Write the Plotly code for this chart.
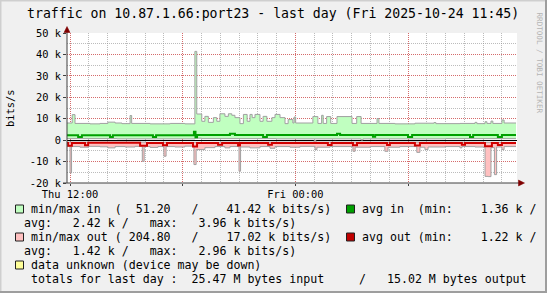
import plotly.graph_objects as go

# ---------------- data (k bits/s) ----------------
IN_MAX_TIME = ["Thu 11:50","Thu 12:07","Thu 12:16","Thu 13:04","Thu 13:36","Thu 14:01","Thu 14:24","Thu 14:46",
               "Thu 15:12","Thu 15:17","Thu 16:16","Thu 17:20","Thu 18:07","Thu 18:39","Thu 18:45","Thu 19:01",
               "Thu 19:11","Thu 19:22","Thu 19:38","Thu 19:49","Thu 19:59","Thu 20:15","Thu 20:26","Thu 20:37",
               "Thu 20:47","Thu 21:03","Thu 21:14","Thu 21:26","Thu 21:35","Thu 21:42","Thu 21:51","Thu 22:07",
               "Thu 22:17","Thu 22:29","Thu 22:45","Thu 22:55","Thu 23:11","Thu 23:27","Thu 23:37","Thu 23:52",
               "Thu 23:56","Fri 00:01","Fri 00:56","Fri 01:12","Fri 01:24","Fri 01:29","Fri 01:40","Fri 01:53",
               "Fri 02:13","Fri 03:01","Fri 03:16","Fri 03:30","Fri 04:21","Fri 04:27","Fri 05:18","Fri 06:22",
               "Fri 07:23","Fri 07:29","Fri 08:46","Fri 09:34","Fri 09:40","Fri 10:06","Fri 10:12","Fri 10:25",
               "Fri 10:31","Fri 11:00","Fri 11:07","Fri 11:45"]
IN_MAX_K = [8.0,11.9,7.8,7.6,7.8,8.4,8.0,7.7,11.5,7.8,7.6,7.8,7.6,41.42,12.2,8.8,11.1,8.3,10.5,8.8,12.3,11.1,
            12.3,11.6,10.5,7.7,12.0,8.8,12.0,10.5,12.0,8.8,11.1,8.8,10.5,12.0,10.5,7.7,9.6,8.0,10.8,8.0,11.0,
            7.8,11.6,7.8,11.0,7.8,11.0,7.8,11.0,7.8,10.1,7.8,7.6,7.9,8.2,7.7,7.8,8.3,7.7,8.6,7.8,8.9,7.8,9.4,
            8.0,8.0]

IN_MIN_TIME = ["Thu 11:50","Thu 14:30","Thu 18:39","Thu 19:00","Thu 23:00","Fri 03:30","Fri 03:36","Fri 08:00","Fri 11:45"]
IN_MIN_K = [0.7,0.6,0.9,0.7,0.6,0.0512,0.6,0.7,0.7]

AVG_IN_TIME = ["Thu 11:50","Thu 12:26","Thu 12:38","Thu 14:08","Thu 14:17","Thu 16:25","Thu 16:35","Thu 18:36",
               "Thu 18:41","Thu 18:46","Thu 20:31","Thu 20:47","Thu 22:17","Thu 22:29","Fri 02:13","Fri 02:23",
               "Fri 04:08","Fri 04:15","Fri 06:00","Fri 06:13","Fri 09:18","Fri 09:28","Fri 10:47","Fri 11:00",
               "Fri 11:45"]
AVG_IN_K = [2.3,1.5,2.3,1.5,2.3,1.5,2.3,3.96,1.36,2.4,3.0,2.4,1.5,2.4,3.0,2.4,1.6,2.4,1.5,2.4,1.5,2.4,1.5,2.4,2.4]

OUT_MAX_TIME = ["Thu 11:50","Thu 12:00","Thu 12:05","Thu 12:32","Thu 12:58","Thu 13:36","Thu 14:01","Thu 14:24",
                "Thu 14:56","Thu 15:28","Thu 15:51","Thu 15:57","Thu 16:16","Thu 16:41","Thu 17:00","Thu 17:07",
                "Thu 17:35","Thu 18:07","Thu 18:36","Thu 18:43","Thu 19:11","Thu 19:43","Thu 20:15","Thu 20:31",
                "Thu 21:00","Thu 21:05","Thu 21:35","Thu 22:07","Thu 22:39","Thu 22:55","Thu 23:43","Fri 00:15",
                "Fri 01:03","Fri 01:09","Fri 01:51","Fri 03:04","Fri 03:11","Fri 03:59","Fri 04:46","Fri 04:56",
                "Fri 05:34","Fri 06:28","Fri 06:38","Fri 06:54","Fri 07:04","Fri 07:58","Fri 08:46","Fri 08:52",
                "Fri 09:34","Fri 10:06","Fri 10:16","Fri 10:25","Fri 10:36","Fri 10:43","Fri 11:00","Fri 11:07",
                "Fri 11:45"]
OUT_MAX_K = [2.8,15.3,3.0,3.3,2.9,3.1,3.6,3.0,3.2,2.9,9.9,3.0,3.4,3.0,7.5,3.0,3.2,2.8,11.4,4.4,3.5,3.0,3.6,3.0,
             14.5,3.2,3.6,3.0,3.8,3.0,3.3,2.9,4.4,3.3,3.0,5.2,3.3,3.0,5.2,3.3,3.0,5.7,3.3,4.4,3.2,3.0,3.6,3.0,
             3.2,16.9,17.02,3.5,16.1,3.2,4.4,3.0,3.0]

OUT_MIN_TIME = ["Thu 11:50","Thu 16:00","Thu 20:00","Fri 01:00","Fri 01:06","Fri 10:00","Fri 11:45"]
OUT_MIN_K = [0.9,1.0,0.9,0.2048,0.9,1.0,1.0]

AVG_OUT_TIME = ["Thu 11:50","Thu 11:54","Thu 12:06","Thu 12:48","Thu 12:58","Thu 15:44","Thu 16:06","Thu 16:57",
                "Thu 17:10","Thu 18:33","Thu 18:46","Thu 19:53","Thu 20:06","Thu 20:57","Thu 21:03","Thu 22:33",
                "Thu 22:45","Fri 01:44","Fri 01:56","Fri 03:04","Fri 03:17","Fri 04:53","Fri 05:02","Fri 06:22",
                "Fri 06:38","Fri 08:52","Fri 09:02","Fri 10:06","Fri 10:28","Fri 10:47","Fri 11:00","Fri 11:45"]
AVG_OUT_K = [1.3,2.6,1.3,2.4,1.22,2.6,1.3,2.4,1.3,2.96,1.3,2.2,1.3,2.5,1.3,2.2,1.3,2.3,1.3,2.4,1.3,2.3,1.3,2.5,
             1.3,2.2,1.3,2.8,1.3,2.3,1.3,1.3]

Y_TICKS = [-20000, -10000, 0, 10000, 20000, 30000, 40000, 50000]
Y_TICK_LABELS = ["-20 k", "-10 k", "0", "10 k", "20 k", "30 k", "40 k", "50 k"]
X_TICKS = ["Thu 12:00", "Thu 18:00", "Fri 00:00", "Fri 06:00"]
X_TICK_LABELS = ["Thu 12:00", "", "Fri 00:00", ""]

TITLE = "traffic on 10.87.1.66:port23 - last day (Fri 2025-10-24 11:45)"
LEGEND_LINES = [
    "min/max in  (  51.20   /    41.42 k bits/s)",
    "avg in  (min:    1.36 k /",
    "avg:   2.42 k /   max:   3.96 k bits/s)",
    "min/max out ( 204.80   /    17.02 k bits/s)",
    "avg out (min:    1.22 k /",
    "avg:   1.42 k /   max:   2.96 k bits/s)",
    "data unknown (device may be down)",
    "totals for last day :  25.47 M bytes input     /   15.02 M bytes output",
]


def to_dt(s):
    d, hm = s.split()
    return ("2025-10-23 " if d == "Thu" else "2025-10-24 ") + hm


def xs(lst):
    return [to_dt(s) for s in lst]


def bits(lst, sign=1):
    return [sign * v * 1000 for v in lst]


# ---------------- styling ----------------
MONO = "DejaVu Sans Mono"
GRAY_LINE = "#a0a0a0"
IN_FILL = "#c0ffc0"
OUT_FILL = "#ffc0c0"
AVG_IN_C = "#00a000"
AVG_OUT_C = "#d00000"
MGRID = "rgba(222,80,80,0.75)"
GRID = "rgba(143,143,143,0.6)"

W, H = 547, 293
L, R, T, B = 67, 517, 33, 183


def px(x):
    return (x - L) / (R - L)


def py(y):
    return (B - y) / (B - T)


fig = go.Figure()
fig.add_trace(go.Scatter(x=xs(IN_MIN_TIME), y=bits(IN_MIN_K), mode="lines",
                         line=dict(color=GRAY_LINE, width=1, shape="hv")))
fig.add_trace(go.Scatter(x=xs(IN_MAX_TIME), y=bits(IN_MAX_K), mode="lines", fill="tonexty",
                         fillcolor=IN_FILL, line=dict(color=GRAY_LINE, width=1, shape="hv")))
fig.add_trace(go.Scatter(x=xs(OUT_MIN_TIME), y=bits(OUT_MIN_K, -1), mode="lines",
                         line=dict(color=GRAY_LINE, width=1, shape="hv")))
fig.add_trace(go.Scatter(x=xs(OUT_MAX_TIME), y=bits(OUT_MAX_K, -1), mode="lines", fill="tonexty",
                         fillcolor=OUT_FILL, line=dict(color=GRAY_LINE, width=1, shape="hv")))
fig.add_trace(go.Scatter(x=xs(AVG_IN_TIME), y=bits(AVG_IN_K), mode="lines",
                         line=dict(color=AVG_IN_C, width=2, shape="hv")))
fig.add_trace(go.Scatter(x=xs(AVG_OUT_TIME), y=bits(AVG_OUT_K, -1), mode="lines",
                         line=dict(color=AVG_OUT_C, width=2, shape="hv")))

annotations = []


def note(text, x, y, size, anchor="left", color="black", angle=0):
    annotations.append(dict(text=text.replace(" ", "\u00a0"), x=px(x), y=py(y), xref="paper", yref="paper",
                            xanchor=anchor, yanchor="middle", showarrow=False, textangle=angle,
                            borderpad=0, font=dict(family=MONO, size=size, color=color)))


note(TITLE, 273, 13.5, 13.2, anchor="center")
note("bits/s", 10, 108, 10.4, anchor="center", angle=-90)
note("RRDTOOL / TOBI OETIKER", 538.5, 63, 7.6, anchor="center", color="#b4b4b4", angle=90)

LEG_FS = 11.6
note(LEGEND_LINES[0], 30, 209, LEG_FS)
note(LEGEND_LINES[1], 361, 209, LEG_FS)
note(LEGEND_LINES[2], 23, 223, LEG_FS)
note(LEGEND_LINES[3], 30, 237, LEG_FS)
note(LEGEND_LINES[4], 361, 237, LEG_FS)
note(LEGEND_LINES[5], 23, 251, LEG_FS)
note(LEGEND_LINES[6], 30, 265, LEG_FS)
note(LEGEND_LINES[7], 30, 279, LEG_FS)

shapes = []


def box(x0, y0, color):
    shapes.append(dict(type="rect", xref="paper", yref="paper", x0=px(x0), x1=px(x0 + 8),
                       y0=py(y0 + 8), y1=py(y0), fillcolor=color, line=dict(color="#202020", width=1)))


box(15.5, 205, IN_FILL)
box(346.5, 205, AVG_IN_C)
box(15.5, 233, OUT_FILL)
box(346.5, 233, "#c00000")
box(15.5, 261, "#ffff99")

# axes lines and arrows
shapes.append(dict(type="line", xref="paper", yref="paper", x0=px(67), x1=px(67), y0=py(183), y1=py(30),
                   line=dict(color="#404040", width=1)))
shapes.append(dict(type="line", xref="paper", yref="paper", x0=px(63), x1=px(519), y0=py(183), y1=py(183),
                   line=dict(color="#404040", width=1)))
shapes.append(dict(type="path", xref="paper", yref="paper",
                   path=f"M {px(64)},{py(32.5)} L {px(70)},{py(32.5)} L {px(67)},{py(26.5)} Z",
                   fillcolor="#7f0000", line=dict(color="#7f0000", width=0.5)))
shapes.append(dict(type="path", xref="paper", yref="paper",
                   path=f"M {px(518.5)},{py(180)} L {px(518.5)},{py(186)} L {px(524.5)},{py(183)} Z",
                   fillcolor="#7f0000", line=dict(color="#7f0000", width=0.5)))
# frame
shapes.append(dict(type="line", xref="paper", yref="paper", x0=px(0), x1=px(W), y0=py(0.5), y1=py(0.5),
                   line=dict(color="#cfcfcf", width=2)))
shapes.append(dict(type="line", xref="paper", yref="paper", x0=px(0.5), x1=px(0.5), y0=py(0), y1=py(H),
                   line=dict(color="#cfcfcf", width=2)))
shapes.append(dict(type="line", xref="paper", yref="paper", x0=px(0), x1=px(W), y0=py(H - 1), y1=py(H - 1),
                   line=dict(color="#9e9e9e", width=2)))
shapes.append(dict(type="line", xref="paper", yref="paper", x0=px(W - 1), x1=px(W - 1), y0=py(0), y1=py(H),
                   line=dict(color="#9e9e9e", width=2)))

fig.update_layout(
    width=W, height=H,
    margin=dict(l=L, r=W - R, t=T, b=H - B, pad=0),
    paper_bgcolor="#f0f0f0", plot_bgcolor="#ffffff",
    showlegend=False,
    annotations=annotations, shapes=shapes,
    xaxis=dict(
        type="date", range=["2025-10-23 11:50:25", "2025-10-24 11:48:10"],
        tickmode="array", tickvals=xs(X_TICKS), ticktext=X_TICK_LABELS,
        showgrid=True, gridcolor=MGRID, griddash="1px,1px", gridwidth=1,
        ticks="outside", ticklen=2, tickcolor="#404040",
        tickfont=dict(family=MONO, size=10.4, color="black"),
        minor=dict(tickmode="linear", tick0="2025-10-23 12:00", dtick=3600000, showgrid=True,
                   gridcolor=GRID, griddash="1px,1px", gridwidth=1, ticks=""),
        showline=False, zeroline=False, fixedrange=True,
    ),
    yaxis=dict(
        range=[-20000, 50000], tickmode="array", tickvals=Y_TICKS, ticktext=Y_TICK_LABELS,
        showgrid=True, gridcolor=MGRID, griddash="1px,1px", gridwidth=1,
        ticks="outside", ticklen=3, tickcolor="#404040",
        tickfont=dict(family=MONO, size=10.4, color="black"),
        minor=dict(tickmode="linear", tick0=0, dtick=5000, showgrid=True,
                   gridcolor=GRID, griddash="1px,1px", gridwidth=1, ticks=""),
        zeroline=True, zerolinecolor="#000000", zerolinewidth=1,
        showline=False, fixedrange=True,
    ),
)

fig.write_html("out.html")
